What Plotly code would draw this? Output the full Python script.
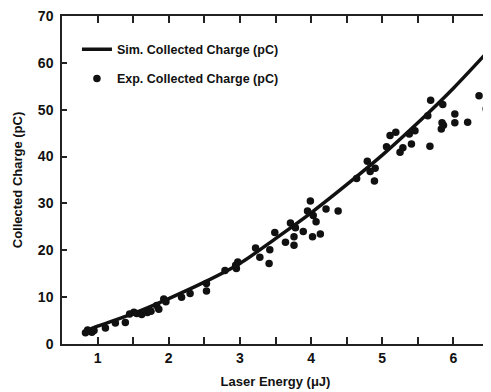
import plotly.graph_objects as go

# Simulated collected charge curve
sim_energy = [0.85, 1.0, 1.5, 2.0, 2.5, 3.0, 3.5, 4.0, 4.5, 5.0, 5.5, 6.0, 6.47]
sim_charge = [2.9, 3.8, 6.5, 9.7, 13.2, 17.2, 22.5, 28.0, 34.0, 40.3, 47.2, 54.6, 62.2]

# Experimental collected charge points
exp_energy = [0.83, 0.86, 0.92, 0.95, 1.11, 1.25, 1.39, 1.45, 1.51, 1.55, 1.62, 1.70,
              1.75, 1.83, 1.86, 1.93, 1.96, 2.18, 2.30, 2.53, 2.53, 2.79, 2.94, 2.95,
              2.97, 3.22, 3.28, 3.41, 3.42, 3.49, 3.64, 3.71, 3.76, 3.76, 3.78, 3.89,
              3.95, 3.99, 4.02, 4.03, 4.07, 4.13, 4.21, 4.38, 4.64, 4.79, 4.83, 4.89,
              4.90, 5.06, 5.11, 5.19, 5.25, 5.29, 5.38, 5.41, 5.46, 5.64, 5.68, 5.67,
              5.83, 5.84, 5.86, 5.85, 6.02, 6.02, 6.20, 6.36, 6.46]
exp_charge = [2.4, 3.0, 2.5, 2.9, 3.4, 4.5, 4.6, 6.4, 6.8, 6.5, 6.3, 6.7,
              7.0, 8.2, 7.4, 9.6, 9.0, 10.0, 10.8, 11.3, 12.9, 15.7, 16.8, 16.1,
              17.5, 20.5, 18.5, 17.2, 20.1, 23.8, 21.7, 25.8, 22.9, 21.1, 24.8, 24.0,
              28.4, 30.5, 22.9, 27.4, 26.1, 23.5, 28.8, 28.4, 35.3, 39.0, 36.8, 34.8,
              37.5, 42.1, 44.5, 45.2, 40.9, 41.9, 44.8, 42.7, 45.5, 48.7, 52.0, 42.2,
              45.9, 47.2, 46.7, 51.1, 49.1, 47.2, 47.3, 53.0, 50.2]

x_tick_vals = [1, 1.5, 2, 2.5, 3, 3.5, 4, 4.5, 5, 5.5, 6]
x_tick_text = ["1", "", "2", "", "3", "", "4", "", "5", "", "6"]
y_tick_vals = [0, 10, 20, 30, 40, 50, 60, 70]

font_family = "Liberation Sans, Arial, sans-serif"
ink = "#111111"

fig = go.Figure()
fig.add_trace(go.Scatter(
    x=sim_energy, y=sim_charge, mode="lines",
    line=dict(color=ink, width=3.5, shape="spline", smoothing=0.8),
    name="Sim. Collected Charge (pC)", legendgroup="a"))
fig.add_trace(go.Scatter(
    x=exp_energy, y=exp_charge, mode="markers",
    marker=dict(color=ink, size=7.5, line=dict(width=0)),
    name="Exp. Collected Charge (pC)", legendgroup="b"))

axis_common = dict(showline=True, linecolor="#222222", linewidth=1.5,
                   mirror="ticks", ticks="inside", tickcolor="#222222",
                   showgrid=False, zeroline=False, ticklabeloverflow="allow",
                   tickfont=dict(family=font_family, size=14, color=ink, weight="bold"))

fig.update_layout(
    width=483, height=384,
    margin=dict(l=54, r=0, t=6, b=48),
    paper_bgcolor="white", plot_bgcolor="white",
    showlegend=True,
    legend=dict(x=0.035, y=0.943, xanchor="left", yanchor="top",
                bgcolor="rgba(0,0,0,0)", traceorder="grouped", tracegroupgap=10,
                font=dict(family=font_family, size=12.5, color=ink, weight="bold")),
    xaxis=dict(range=[0.5, 6.5], tickvals=x_tick_vals, ticktext=x_tick_text,
               ticklen=7, tickwidth=1.5,
               title=dict(text="Laser Energy (μJ)", standoff=12,
                          font=dict(family=font_family, size=13, color=ink, weight="bold")),
               **axis_common),
    yaxis=dict(range=[0, 70], tickvals=y_tick_vals, ticklen=5, tickwidth=1.5,
               ticklabelstandoff=4,
               title=dict(text="Collected Charge (pC)", standoff=12,
                          font=dict(family=font_family, size=13, color=ink, weight="bold")),
               **axis_common),
)

fig.write_html("out.html")
